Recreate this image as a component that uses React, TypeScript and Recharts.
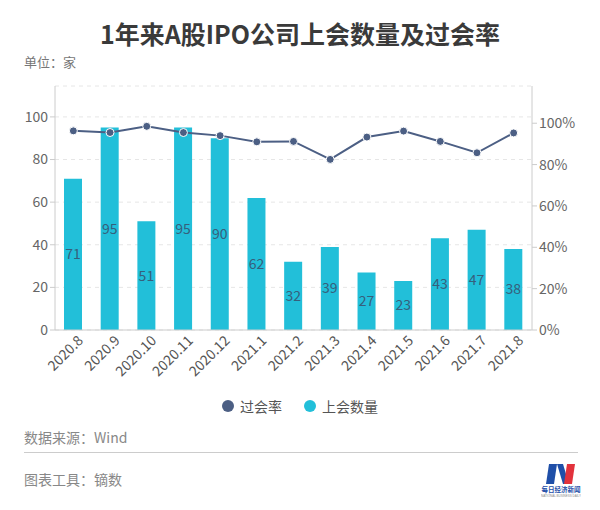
import { ComposedChart, Bar, Line, XAxis, YAxis, CartesianGrid, LabelList } from 'recharts'

const months = [
  '2020.8', '2020.9', '2020.10', '2020.11', '2020.12', '2021.1', '2021.2',
  '2021.3', '2021.4', '2021.5', '2021.6', '2021.7', '2021.8',
]
const meetingCounts = [71, 95, 51, 95, 90, 62, 32, 39, 27, 23, 43, 47, 38]
const passRates = [0.963, 0.955, 0.985, 0.955, 0.94, 0.91, 0.912, 0.825, 0.933, 0.962, 0.912, 0.857, 0.953]
const countTicks = [0, 20, 40, 60, 80, 100]
const rateTicks = [0, 0.2, 0.4, 0.6, 0.8, 1]

const FONT = "'Noto Sans CJK SC', 'Noto Sans', sans-serif"
const BAR_COLOR = '#22bfd9'
const LINE_COLOR = '#4c5f84'

const chartData = months.map((m, i) => ({
  month: m,
  count: meetingCounts[i],
  rate: passRates[i],
}))

const MonthTick = ({ x, y, payload }: any) => (
  <g transform={`translate(${x},${y})`}>
    <text
      x={5}
      y={0}
      dy={10}
      textAnchor="end"
      transform="rotate(-45)"
      fontSize={14}
      fill="#555"
      fontFamily={FONT}
    >
      {payload.value}
    </text>
  </g>
)

function Logo() {
  return (
    <svg width={40} height={36} viewBox="0 0 40 36" style={{ position: 'absolute', left: 541, top: 462 }}>
      <polygon points="8,2 16,2 13,22 5,22" fill="#1f4fa8" />
      <polygon points="16,2 22,2 28,22 22,22" fill="#1f4fa8" />
      <polygon points="26,2 34,2 31,22 23,22" fill="#e2323c" />
      <text x={20} y={30} textAnchor="middle" fontSize={6.5} fill="#1f4fa8" fontFamily={FONT} fontWeight="bold">
        每日经济新闻
      </text>
      <text x={20} y={35} textAnchor="middle" fontSize={3} fill="#888" fontFamily="sans-serif">
        NATIONAL BUSINESS DAILY
      </text>
    </svg>
  )
}

export default function App() {
  return (
    <div
      style={{
        position: 'absolute',
        left: 0,
        top: 0,
        width: 600,
        height: 510,
        background: '#fff',
        fontFamily: FONT,
      }}
    >
      <div
        style={{
          position: 'absolute',
          top: 15,
          width: 600,
          textAlign: 'center',
          fontSize: 25,
          fontWeight: 'bold',
          color: '#3a3a3a',
          lineHeight: '36px',
        }}
      >
        1年来A股IPO公司上会数量及过会率
      </div>
      <div style={{ position: 'absolute', left: 24, top: 52, fontSize: 13, color: '#777' }}>单位：家</div>

      <div style={{ position: 'absolute', left: 0, top: 0 }}>
        <ComposedChart
          width={600}
          height={400}
          data={chartData}
          margin={{ top: 86, right: 0, left: 0, bottom: 0 }}
        >
          <CartesianGrid yAxisId="left" vertical={false} stroke="#e6e6e6" strokeDasharray="4 4" />
          <XAxis
            dataKey="month"
            height={70}
            interval={0}
            tick={<MonthTick />}
            tickLine={false}
            axisLine={{ stroke: '#cccccc' }}
          />
          <YAxis
            yAxisId="left"
            width={55}
            domain={[0, 114.5]}
            ticks={countTicks}
            tick={{ fontSize: 14, fill: '#666', fontFamily: FONT }}
            tickLine={{ stroke: '#cccccc' }}
            tickSize={5}
            axisLine={{ stroke: '#cccccc' }}
          />
          <YAxis
            yAxisId="right"
            orientation="right"
            width={68}
            domain={[0, 1.18]}
            ticks={rateTicks}
            tickFormatter={(v: number) => `${Math.round(v * 100)}%`}
            tick={{ fontSize: 14, fill: '#666', fontFamily: FONT }}
            tickLine={{ stroke: '#cccccc' }}
            tickSize={5}
            axisLine={{ stroke: '#cccccc' }}
          />
          <Bar yAxisId="left" dataKey="count" name="上会数量" fill={BAR_COLOR} barSize={18} isAnimationActive={false}>
            <LabelList dataKey="count" position="center" fill="#36607c" fontSize={14} fontFamily={FONT} />
          </Bar>
          <Line
            yAxisId="right"
            dataKey="rate"
            name="过会率"
            type="linear"
            stroke={LINE_COLOR}
            strokeWidth={2}
            dot={{ r: 4, fill: LINE_COLOR, stroke: '#fff', strokeWidth: 1 }}
            isAnimationActive={false}
          />
        </ComposedChart>
      </div>

      <div
        style={{
          position: 'absolute',
          top: 396,
          width: 600,
          display: 'flex',
          justifyContent: 'center',
          alignItems: 'center',
          fontSize: 14,
          color: '#555',
        }}
      >
        <span style={{ width: 12, height: 12, borderRadius: 6, background: LINE_COLOR, marginRight: 6 }} />
        <span style={{ marginRight: 22 }}>过会率</span>
        <span style={{ width: 12, height: 12, borderRadius: 6, background: BAR_COLOR, marginRight: 6 }} />
        <span>上会数量</span>
      </div>

      <div style={{ position: 'absolute', left: 24, top: 427, fontSize: 14, color: '#888' }}>数据来源：Wind</div>
      <div style={{ position: 'absolute', left: 24, top: 452, width: 554, height: 1, background: '#cccccc' }} />
      <div style={{ position: 'absolute', left: 24, top: 469, fontSize: 14, color: '#888' }}>图表工具：镝数</div>
      <Logo />
    </div>
  )
}
